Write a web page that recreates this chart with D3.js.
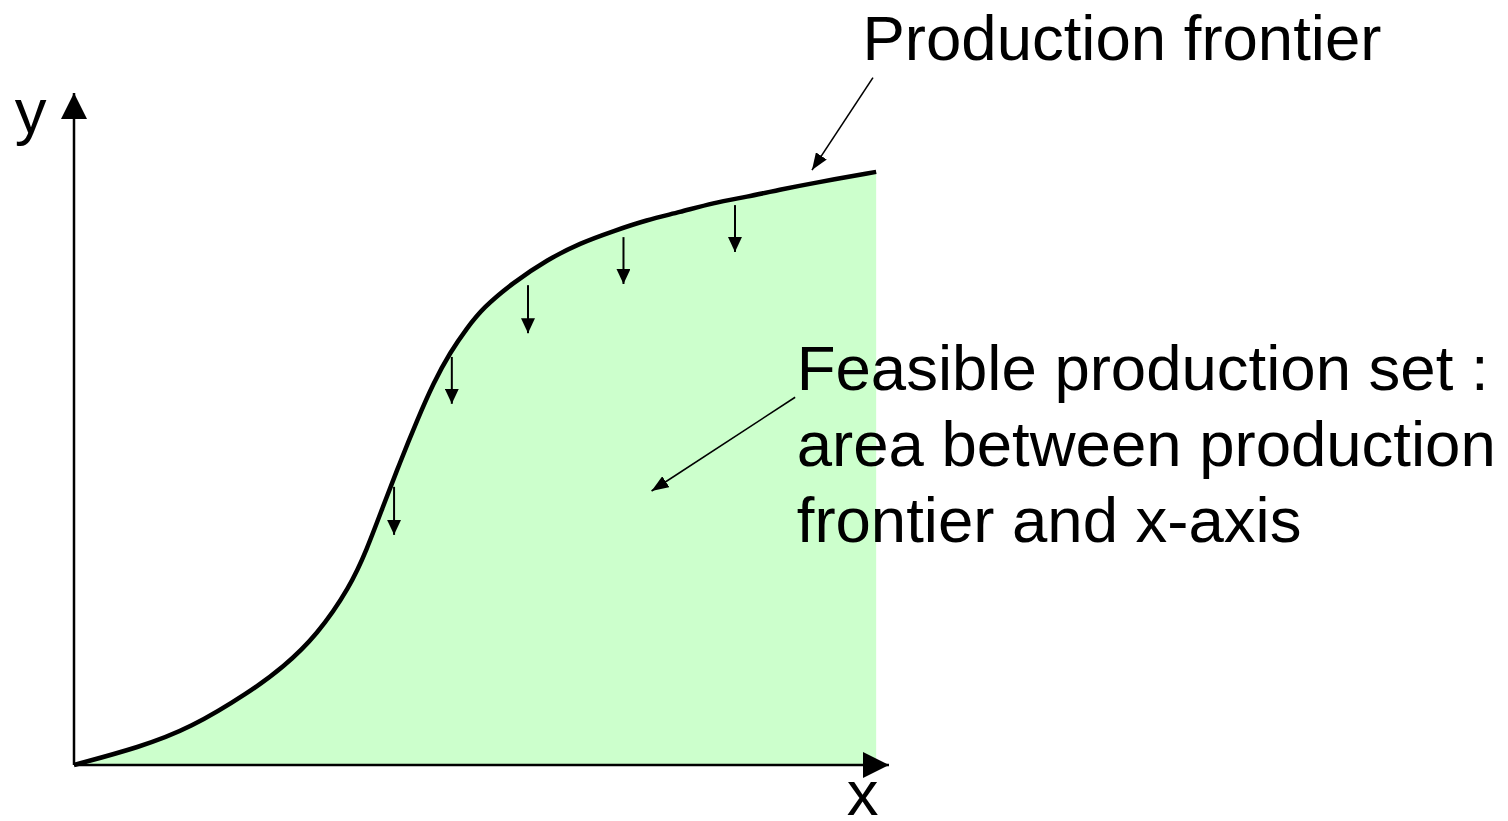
<!DOCTYPE html>
<html>
<head>
<meta charset="utf-8">
<script src="https://cdn.jsdelivr.net/npm/d3@7"></script>
<style>
  html, body { margin: 0; padding: 0; background: #fff; }
  svg { display: block; font-family: "Liberation Sans", Arial, sans-serif; }
</style>
</head>
<body>
<svg id="chart"></svg>
<script>
// frontier shape, in chart units (x input, y output)
const frontierX = [0, 0.82, 1.45, 2.19, 2.61, 3.03, 3.44, 3.65, 3.85, 4.06, 4.28, 4.48, 4.69, 4.90, 5.10, 5.47, 5.90, 6.31, 6.72, 7.14, 7.55, 7.97, 8.39, 8.80, 9.21, 10]
const frontierY = [0, 0.30, 0.62, 1.23, 1.65, 2.19, 3.00, 3.63, 4.35, 5.09, 5.82, 6.44, 6.96, 7.37, 7.71, 8.13, 8.52, 8.80, 9.00, 9.19, 9.32, 9.48, 9.58, 9.70, 9.81, 10]

// small downward arrows under the frontier
const dropX = [3.99, 4.71, 5.66, 6.85, 8.24]
const dropTop = [4.69, 6.88, 8.09, 8.90, 9.44]
const dropBottom = [3.88, 6.09, 7.28, 8.11, 8.65]

// axis extents (where the arrow tips sit)
const xMax = 10.16
const yMax = 11.33

const frontierLabel = "Production frontier"
const setLabel = ["Feasible production set :", "area between production", "frontier and x-axis"]

const width = 1508
const height = 821
const fs = 63.5

const svg = d3.select("#chart").attr("width", width).attr("height", height)

const x = d3.scaleLinear().domain([0, xMax]).range([74, 889])
const y = d3.scaleLinear().domain([0, yMax]).range([765, 93])

const defs = svg.append("defs")
const marker = (id, len, wid) => {
  defs.append("marker")
    .attr("id", id)
    .attr("markerUnits", "userSpaceOnUse")
    .attr("viewBox", `0 ${-wid / 2} ${len} ${wid}`)
    .attr("refX", len)
    .attr("refY", 0)
    .attr("markerWidth", len)
    .attr("markerHeight", wid)
    .attr("orient", "auto")
    .append("path")
    .attr("d", `M0,${-wid / 2}L${len},0L0,${wid / 2}Z`)
    .attr("fill", "#000")
}
marker("axisHead", 26, 26)
marker("dropHead", 15, 14)
marker("noteHead", 17, 13)

const pts = frontierX.map((v, i) => [v, frontierY[i]])
const curve = d3.curveBasis

// feasible set
svg.append("path")
  .datum(pts)
  .attr("fill", "#ccffcc")
  .attr("d", d3.area().x((d) => x(d[0])).y0(y(0)).y1((d) => y(d[1])).curve(curve))

// axes
svg.append("line")
  .attr("x1", x(0)).attr("y1", y(0))
  .attr("x2", x(xMax)).attr("y2", y(0))
  .attr("stroke", "#000").attr("stroke-width", 2.5)
  .attr("marker-end", "url(#axisHead)")
svg.append("line")
  .attr("x1", x(0)).attr("y1", y(0))
  .attr("x2", x(0)).attr("y2", y(yMax))
  .attr("stroke", "#000").attr("stroke-width", 2.5)
  .attr("marker-end", "url(#axisHead)")

// frontier
svg.append("path")
  .datum(pts)
  .attr("fill", "none")
  .attr("stroke", "#000")
  .attr("stroke-width", 4.5)
  .attr("stroke-linejoin", "round")
  .attr("d", d3.line().x((d) => x(d[0])).y((d) => y(d[1])).curve(curve))

// drop arrows
svg.append("g")
  .selectAll("line")
  .data(dropX)
  .join("line")
  .attr("x1", (d) => x(d))
  .attr("x2", (d) => x(d))
  .attr("y1", (d, i) => y(dropTop[i]))
  .attr("y2", (d, i) => y(dropBottom[i]))
  .attr("stroke", "#000")
  .attr("stroke-width", 2)
  .attr("marker-end", "url(#dropHead)")

// annotation arrows
svg.append("line")
  .attr("x1", x(9.96)).attr("y1", y(11.59))
  .attr("x2", x(9.20)).attr("y2", y(10.03))
  .attr("stroke", "#000").attr("stroke-width", 1.6)
  .attr("marker-end", "url(#noteHead)")
svg.append("line")
  .attr("x1", x(8.99)).attr("y1", y(6.20))
  .attr("x2", x(7.20)).attr("y2", y(4.62))
  .attr("stroke", "#000").attr("stroke-width", 1.6)
  .attr("marker-end", "url(#noteHead)")

// labels
svg.append("text")
  .attr("x", x(-0.74)).attr("y", y(10.66))
  .attr("font-size", fs)
  .text("y")
svg.append("text")
  .attr("x", x(9.83)).attr("y", y(-0.84))
  .attr("text-anchor", "middle")
  .attr("font-size", fs)
  .text("x")
svg.append("text")
  .attr("x", x(9.83)).attr("y", y(11.89))
  .attr("font-size", fs)
  .text(frontierLabel)

svg.append("text")
  .attr("x", x(9.01)).attr("y", y(6.32))
  .attr("font-size", fs)
  .selectAll("tspan")
  .data(setLabel)
  .join("tspan")
  .attr("x", x(9.01))
  .attr("dy", (d, i) => (i === 0 ? 0 : 76))
  .text((d) => d)
</script>
</body>
</html>
